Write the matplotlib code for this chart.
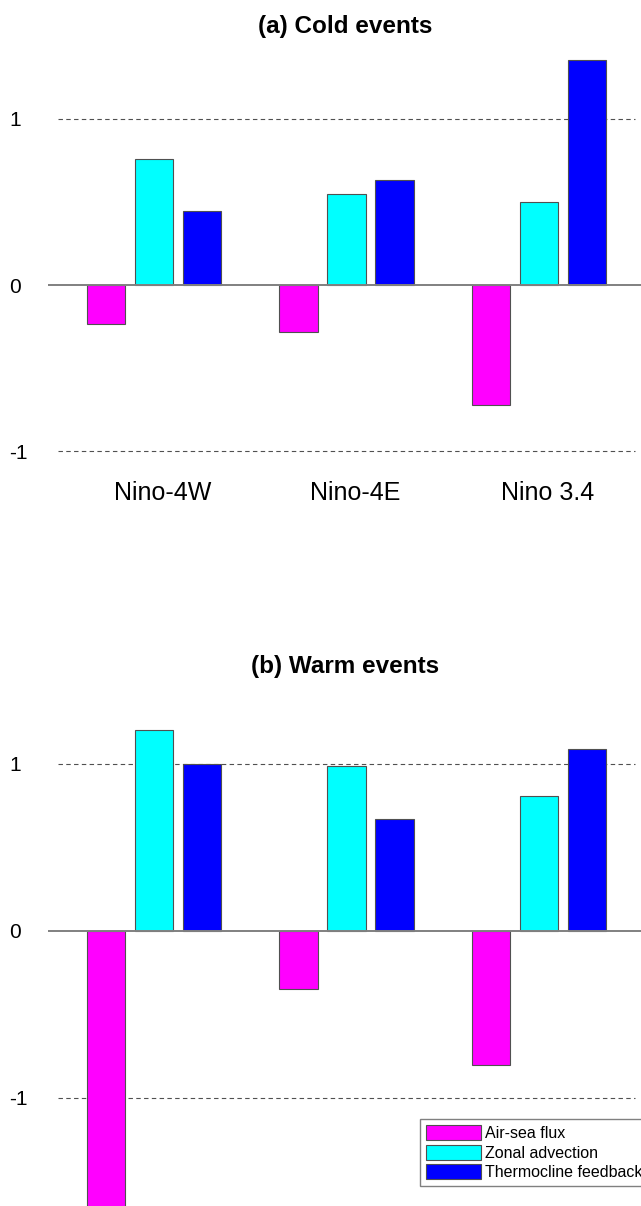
import numpy as np
import matplotlib
matplotlib.use("Agg")
from matplotlib import pyplot as plt

plt.rcParams['font.family'] = ['Liberation Sans', 'DejaVu Sans']

regions = ["Nino-4W", "Nino-4E", "Nino 3.4"]
terms = ["Air-sea flux", "Zonal advection", "Thermocline feedback"]
colors = ["#ff00ff", "#00ffff", "#0000ff"]

# heat budget terms, one list per term, ordered like regions
cold_airsea = [-0.235, -0.28, -0.72]
cold_zonal = [0.76, 0.55, 0.50]
cold_thermo = [0.445, 0.635, 1.355]

warm_airsea = [-1.80, -0.35, -0.80]
warm_zonal = [1.205, 0.985, 0.81]
warm_thermo = [1.00, 0.67, 1.09]

W, H = 641, 1206
fig = plt.figure(figsize=(W / 100, H / 100), dpi=100)


def draw_panel(ax, series, ylim):
    x = np.arange(len(regions))
    offsets = [-0.25, 0.0, 0.25]
    for vals, off, col, name in zip(series, offsets, colors, terms):
        ax.bar(x + off, vals, width=0.2, color=col, edgecolor="#505050",
               linewidth=0.8, label=name, zorder=3)
    ax.axhline(0, color="#808080", lw=1.4, zorder=4)
    for yv in (-1, 1):
        ax.plot([-0.5, 2.5], [yv, yv], color="#505050", lw=0.8,
                linestyle=(0, (4, 3)), zorder=2)
    ax.set_xlim(-0.551, 2.53)
    ax.set_ylim(*ylim)
    ax.set_yticks([-1, 0, 1])
    ax.set_yticklabels(["-1", "0", "1"], fontsize=15, ha="left")
    ax.tick_params(axis="y", length=0, pad=28)
    for s in ax.spines.values():
        s.set_visible(False)


# (a) cold events
ax1 = fig.add_axes([48 / W, 1 - 468 / H, 593 / W, (468 - 44.2) / H])
draw_panel(ax1, [cold_airsea, cold_zonal, cold_thermo], (-1.1, 1.45))
ax1.set_xticks(np.arange(len(regions)) + 0.045)
ax1.set_xticklabels(regions, fontsize=18)
ax1.tick_params(axis="x", length=0, pad=9.5)

# (b) warm events
ax2 = fig.add_axes([48 / W, 0, 593 / W, (1206 - 688.8) / H])
draw_panel(ax2, [warm_airsea, warm_zonal, warm_thermo], (-1.647, 1.45))
ax2.set_xticks([])

fig.text(345.5 / W, 1 - 26 / H, "(a) Cold events", fontsize=17.5,
         fontweight="bold", ha="center", va="center")
fig.text(345.5 / W, 1 - 667 / H, "(b) Warm events", fontsize=17.5,
         fontweight="bold", ha="center", va="center")

leg = ax2.legend(loc="upper left", bbox_to_anchor=(420 / W, 1 - 1119 / H),
                 bbox_transform=fig.transFigure, fontsize=11.5,
                 handlelength=3.4, handleheight=1.05, labelspacing=0.22,
                 handletextpad=0.25, borderpad=0.4, borderaxespad=0,
                 fancybox=False, framealpha=1)
leg.get_frame().set_edgecolor("#808080")
leg.get_frame().set_linewidth(1.0)

fig.savefig("out.png", dpi=100)
